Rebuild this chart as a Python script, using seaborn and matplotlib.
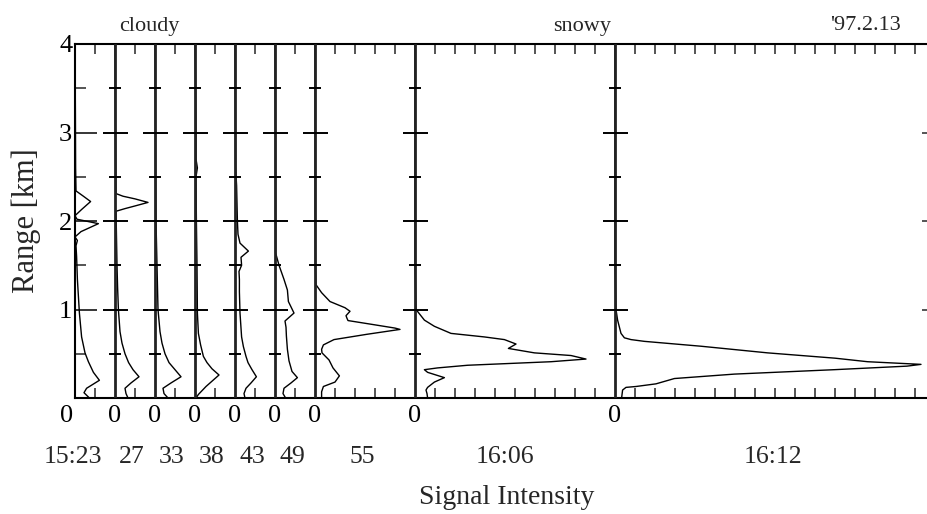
import numpy as np
import pandas as pd
import matplotlib
matplotlib.use("Agg")
import matplotlib.pyplot as plt
import seaborn as sns

# ---------------------------------------------
# lidar profiles, '97.2.13 (signal in tick units)
# ---------------------------------------------
times = ["15:23", "27", "33", "38", "43", "49", "55", "16:06", "16:12"]
offsets = [0, 2, 4, 6, 8, 10, 12, 17, 27]          # baseline of each profile
label_x = [-0.1, 2.85, 4.85, 6.85, 8.85, 10.85, 14.35, 21.5, 34.9]

km_1523 = [0.0, 0.06, 0.11, 0.2, 0.29, 0.41, 0.51, 0.69, 0.96, 1.34, 1.6, 1.72, 1.78, 1.82,
           1.88, 1.97, 2.02, 2.06, 2.13, 2.22, 2.28, 2.34, 2.6, 3.2, 4.0]
sig_1523 = [0.72, 0.45, 0.58, 1.22, 0.92, 0.67, 0.5, 0.33, 0.22, 0.12, 0.08, 0.05, 0.12, 0.0,
            0.3, 1.17, 0.1, 0.0, 0.33, 0.78, 0.42, 0.05, 0.03, 0.02, 0.0]

km_1527 = [0.0, 0.05, 0.11, 0.17, 0.24, 0.32, 0.4, 0.5, 0.62, 0.75, 1.0, 1.25, 1.5, 2.0,
           2.11, 2.14, 2.17, 2.21, 2.25, 2.28, 2.31, 2.5, 3.0, 4.0]
sig_1527 = [0.65, 0.55, 0.5, 0.8, 1.2, 0.9, 0.68, 0.5, 0.35, 0.25, 0.17, 0.13, 0.1, 0.06,
            0.05, 0.5, 1.0, 1.65, 1.0, 0.4, 0.05, 0.04, 0.02, 0.0]

km_1533 = [0.0, 0.05, 0.11, 0.17, 0.24, 0.32, 0.4, 0.5, 0.62, 0.75, 1.0, 1.5, 2.0, 2.5, 3.0, 4.0]
sig_1533 = [0.65, 0.45, 0.4, 0.8, 1.3, 1.0, 0.7, 0.5, 0.35, 0.25, 0.15, 0.1, 0.05, 0.03, 0.02, 0.0]

km_1538 = [0.0, 0.04, 0.13, 0.2, 0.26, 0.33, 0.4, 0.47, 0.6, 0.73, 0.96, 1.5, 2.0, 2.5, 2.6,
           2.7, 3.0, 3.5, 4.0]
sig_1538 = [0.05, 0.17, 0.55, 0.9, 1.2, 0.85, 0.6, 0.42, 0.28, 0.17, 0.12, 0.1, 0.07, 0.05, 0.12,
            0.05, 0.05, 0.03, 0.0]

km_1543 = [0.0, 0.05, 0.11, 0.17, 0.24, 0.32, 0.4, 0.47, 0.58, 0.69, 0.96, 1.2, 1.34, 1.43,
           1.5, 1.59, 1.66, 1.75, 1.85, 2.0, 2.2, 2.4, 2.6, 3.0, 4.0]
sig_1543 = [0.5, 0.45, 0.55, 0.8, 1.07, 0.85, 0.65, 0.55, 0.42, 0.33, 0.25, 0.22, 0.22, 0.2,
            0.33, 0.3, 0.67, 0.25, 0.15, 0.12, 0.1, 0.08, 0.03, 0.02, 0.0]

km_1549 = [0.0, 0.05, 0.11, 0.17, 0.23, 0.3, 0.42, 0.55, 0.7, 0.8, 0.87, 0.96, 1.09, 1.22,
           1.34, 1.5, 1.64, 2.0, 3.0, 4.0]
sig_1549 = [0.53, 0.4, 0.45, 0.8, 1.12, 0.85, 0.7, 0.62, 0.57, 0.55, 0.5, 0.95, 0.67, 0.62,
            0.45, 0.2, 0.03, 0.03, 0.02, 0.0]

km_1555 = [0.0, 0.07, 0.13, 0.18, 0.25, 0.34, 0.43, 0.51, 0.55, 0.6, 0.66, 0.72, 0.775, 0.79,
           0.83, 0.875, 0.9, 0.93, 0.98, 1.02, 1.09, 1.19, 1.28, 1.5, 2.0, 4.0]
sig_1555 = [0.33, 0.33, 0.42, 1.0, 1.22, 0.9, 0.7, 0.35, 0.33, 0.42, 0.95, 2.6, 4.25, 4.0,
            2.9, 1.65, 1.6, 1.55, 1.75, 1.5, 0.75, 0.33, 0.05, 0.02, 0.01, 0.0]

km_1606 = [0.0, 0.05, 0.09, 0.12, 0.18, 0.23, 0.29, 0.32, 0.34, 0.37, 0.41, 0.44, 0.48, 0.51,
           0.56, 0.61, 0.66, 0.69, 0.73, 0.81, 0.88, 1.0, 1.5, 4.0]
sig_1606 = [0.63, 0.6, 0.55, 0.63, 0.97, 1.47, 0.63, 0.47, 1.13, 2.63, 6.8, 8.55, 7.8, 5.97,
            4.67, 5.05, 4.47, 3.47, 1.8, 0.97, 0.47, 0.05, 0.0, 0.0]

km_1612 = [0.0, 0.09, 0.12, 0.13, 0.16, 0.22, 0.27, 0.32, 0.36, 0.38, 0.41, 0.45, 0.51, 0.585,
           0.64, 0.66, 0.68, 0.73, 0.88, 1.0, 1.5, 4.0]
sig_1612 = [0.33, 0.38, 0.55, 1.05, 2.05, 2.97, 5.97, 10.97, 14.6, 15.3, 12.63, 11.0, 7.63, 4.3,
            1.47, 0.8, 0.47, 0.3, 0.13, 0.05, 0.0, 0.0]

profiles = [(km_1523, sig_1523), (km_1527, sig_1527), (km_1533, sig_1533),
            (km_1538, sig_1538), (km_1543, sig_1543), (km_1549, sig_1549),
            (km_1555, sig_1555), (km_1606, sig_1606), (km_1612, sig_1612)]

# long table
rows = []
for t, off, (km, sig) in zip(times, offsets, profiles):
    for h, s in zip(km, sig):
        rows.append({"time": t, "km": h, "signal": s, "x": off + s})
df = pd.DataFrame(rows)

# -----------------------------
# Figure
# -----------------------------
sns.set_theme(style="white")
plt.rcParams["font.family"] = ["Liberation Serif", "DejaVu Serif"]

W, H = 928, 514
fig = plt.figure(figsize=(W / 100, H / 100), dpi=100)
ax = fig.add_axes([75 / W, 1 - 398 / H, (930 - 75) / W, (398 - 44) / H])

xmax = (930 - 75) / 20
ax.set_xlim(0, xmax)
ax.set_ylim(0, 4)

for t in times:
    sub = df[df["time"] == t]
    sns.lineplot(data=sub, x="x", y="km", orient="y", sort=False, estimator=None,
                 color="black", lw=1.0, ax=ax)

# baselines with their crossing ticks
for off in offsets[1:]:
    ax.axvline(off, color="#222222", lw=2.0, zorder=3)
    ax.plot([off] * 3, [1, 2, 3], ls="none", marker="_", ms=18, mew=1.4,
            color="black", zorder=4)
    ax.plot([off] * 4, [0.5, 1.5, 2.5, 3.5], ls="none", marker="_", ms=8.5, mew=1.4,
            color="black", zorder=4)

for s in ax.spines.values():
    s.set_linewidth(1.5)
    s.set_color("black")
ax.spines["right"].set_visible(False)

# y axis
ax.set_yticks([1, 2, 3, 4])
ax.set_yticklabels(["1", "2", "3", "4"])
ax.set_yticks([0.5, 1.5, 2.5, 3.5], minor=True)
ax.tick_params(axis="y", which="major", direction="in", length=15.8, width=1.1,
               labelsize=19, pad=2, left=True, colors="black")
ax.tick_params(axis="y", which="minor", direction="in", length=8, width=1.1, left=True)
ax.set_ylabel("Range [km]", fontsize=22)
ax.yaxis.set_label_coords(-(75 - 41) / (930 - 75), 0.5)

# x axis: zeros at baselines, small ticks every unit top and bottom
ax.set_xlabel("")
ax.set_xticks(offsets)
ax.set_xticklabels(["0"] * len(offsets))
ax.set_xticks([i for i in range(1, int(xmax) + 1) if i not in offsets], minor=True)
ax.tick_params(axis="x", which="major", length=0, labelsize=19, pad=5, colors="black")
ax.tick_params(axis="x", which="minor", direction="in", length=7.5, width=1.1,
               bottom=True, top=True)
first = ax.get_xticklabels()[0]
first.set_transform(first.get_transform() +
                    matplotlib.transforms.ScaledTranslation(-8 / 100, 0, fig.dpi_scale_trans))

# right side ticks
ax2 = ax.twinx()
ax2.set_ylim(0, 4)
ax2.set_yticks([1, 2, 3])
ax2.tick_params(axis="y", direction="in", length=6, width=1.1, labelright=False, right=True)
for s in ax2.spines.values():
    s.set_visible(False)
ax2.grid(False)

# time labels
for t, lx in zip(times, label_x):
    ax.annotate(t, xy=(lx, 0), xycoords=("data", "axes fraction"),
                xytext=(0, -59), textcoords="offset pixels",
                ha="center", va="center", fontsize=18.5)

fig.text(507 / W, 1 - 497 / H, "Signal Intensity", ha="center", va="center", fontsize=20)
fig.text(149 / W, 1 - 26 / H, "cloudy", ha="center", va="center", fontsize=16)
fig.text(582 / W, 1 - 26 / H, "snowy", ha="center", va="center", fontsize=16)
fig.text(865 / W, 1 - 26 / H, "'97.2.13", ha="center", va="center", fontsize=16)

ax.grid(False)
fig.savefig("out.png", dpi=100)
